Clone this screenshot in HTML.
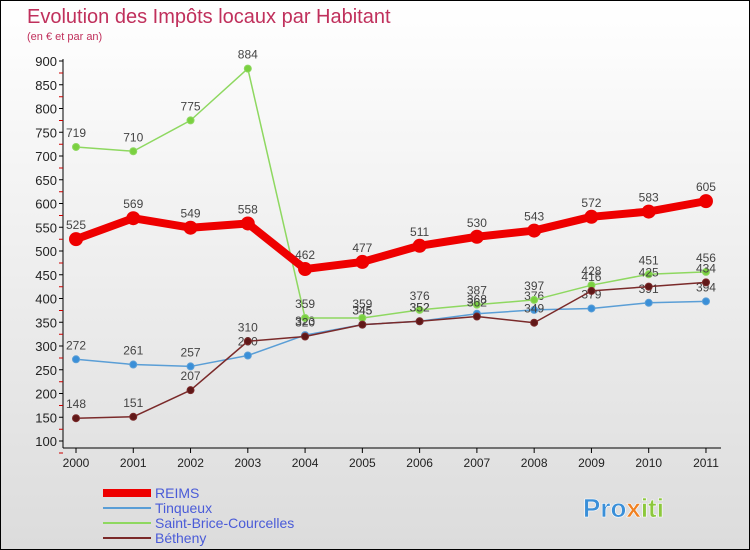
<!DOCTYPE html>
<html><head><meta charset="utf-8"><style>
body{margin:0;background:#fff}
#wrap{width:748px;height:548px;border:1px solid #000;background:linear-gradient(#fff,#dcdcdc);position:relative;font-family:"Liberation Sans",sans-serif;overflow:hidden}
text{font-family:"Liberation Sans",sans-serif}
</style></head><body>
<div id="wrap">
<svg id="svg" width="748" height="548">
<text x="26" y="22" font-size="20" fill="#c0305c">Evolution des Impôts locaux par Habitant</text>
<text x="26" y="39" font-size="11" fill="#c0305c">(en € et par an)</text>
<g id="axes"></g><g id="series"></g>
<g>
<line x1="102" y1="492" x2="150" y2="492" stroke="#e00" stroke-width="8"/>
<text x="154" y="497" font-size="14" fill="#4a5bd8">REIMS</text>
<line x1="102" y1="507" x2="150" y2="507" stroke="#5a9ed6" stroke-width="2"/>
<text x="154" y="512" font-size="14" fill="#4a5bd8">Tinqueux</text>
<line x1="102" y1="522" x2="150" y2="522" stroke="#8ed860" stroke-width="2"/>
<text x="154" y="527" font-size="14" fill="#4a5bd8">Saint-Brice-Courcelles</text>
<line x1="102" y1="537" x2="150" y2="537" stroke="#7a2a2a" stroke-width="2"/>
<text x="154" y="542" font-size="14" fill="#4a5bd8">Bétheny</text>
</g>
<text x="582" y="516" font-size="26" font-weight="bold" fill="#3a8fd8" stroke="#fff" stroke-width="0.6">Pro<tspan fill="#f08020">x</tspan><tspan fill="#8cc83c">iti</tspan></text>
</svg></div>
<script>
const years=["2000","2001","2002","2003","2004","2005","2006","2007","2008","2009","2010","2011"];
const yTicks=[100,150,200,250,300,350,400,450,500,550,600,650,700,750,800,850,900];
const reims=[525,569,549,558,462,477,511,530,543,572,583,605];
const tinqueux=[272,261,257,280,323,345,352,368,376,379,391,394];
const saintBrice=[719,710,775,884,359,359,376,387,397,428,451,456];
const betheny=[148,151,207,310,320,345,352,362,349,416,425,434];
const NS="http://www.w3.org/2000/svg";
const X=i=>75+i*57.27, Y=v=>60+(900-v)*0.475;
function mk(t,a,p){const e=document.createElementNS(NS,t);for(const k in a)e.setAttribute(k,a[k]);p.appendChild(e);return e;}
const ax=document.getElementById('axes'), se=document.getElementById('series');
let l=mk('line',{x1:62,y1:58,x2:62,y2:447,stroke:'#000'},ax);


l=mk('line',{x1:62,y1:447,x2:720,y2:447,stroke:'#000'},ax);


yTicks.forEach(v=>{mk('line',{x1:58,y1:Y(v),x2:62,y2:Y(v),stroke:'#000'},ax);
mk('line',{x1:58,y1:Y(v)+12,x2:62,y2:Y(v)+12,stroke:'#c00'},ax);
const t=mk('text',{x:56,y:Y(v)+5,'font-size':13,'text-anchor':'end',fill:'#222'},ax);t.textContent=v;

});
years.forEach((y,i)=>{mk('line',{x1:X(i),y1:447,x2:X(i),y2:452,stroke:'#000'},ax);
const t=mk('text',{x:X(i),y:466,'font-size':12,'text-anchor':'middle',fill:'#222'},ax);t.textContent=y;

});
function draw(d,name,col,w,r,dot){const g=mk('g',{},se);


mk('polyline',{points:d.map((v,i)=>X(i)+','+Y(v)).join(' '),fill:'none',stroke:col,'stroke-width':w,'stroke-linejoin':'round'},g);
d.forEach((v,i)=>{const c=mk('circle',{cx:X(i),cy:Y(v),r:r,fill:dot,stroke:col,'stroke-width':1},g);


const t=mk('text',{x:X(i),y:Y(v)-10,'font-size':12,'text-anchor':'middle',fill:'#444'},g);t.textContent=v;

});}
draw(tinqueux,'tinqueux','#5a9ed6',1.5,3.5,'#3a8fd8');
draw(saintBrice,'saint-brice','#8ed860',1.5,3.5,'#7ad040');
draw(betheny,'betheny','#7a2a2a',1.5,3.5,'#601818');
draw(reims,'reims','#e00',8,6.5,'#e00');
</script></body></html>
